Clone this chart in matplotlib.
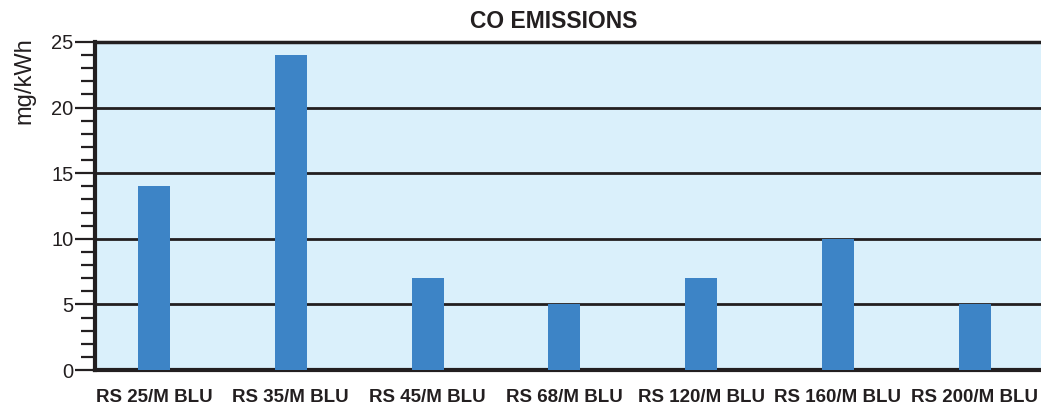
import numpy as np
import matplotlib.pyplot as plt
from matplotlib.ticker import MultipleLocator

# Data
models = ['RS 25/M BLU', 'RS 35/M BLU', 'RS 45/M BLU', 'RS 68/M BLU',
          'RS 120/M BLU', 'RS 160/M BLU', 'RS 200/M BLU']
co_values = [14, 24, 7, 5, 7, 10, 5]

fig = plt.figure(figsize=(10.41, 4.07), dpi=100)
ax = fig.add_axes([0.0913, 0.0909, 0.9087, 0.806])
ax.set_facecolor('#daf0fb')

x = np.arange(len(models))
ax.bar(x, co_values, width=0.234, color='#3d84c6', zorder=3)

ax.set_xlim(-0.431, 6.484)
ax.set_ylim(0, 25)
ax.yaxis.set_major_locator(MultipleLocator(5))
ax.yaxis.set_minor_locator(MultipleLocator(1))
ax.grid(axis='y', which='major', color='#231f20', linewidth=2, zorder=1)

ax.set_xticks(x)
ax.set_xticklabels(models, fontweight='bold', fontsize=13.5, color='#231f20',
                   family=['Liberation Sans', 'DejaVu Sans'])
ax.tick_params(axis='x', length=0, pad=14)
ax.tick_params(axis='y', which='major', length=14.5, width=1.6, color='#231f20',
               labelsize=14.5, labelcolor='#231f20', pad=1)
ax.tick_params(axis='y', which='minor', length=10, width=1.6, color='#231f20')
for lab in ax.get_yticklabels():
    lab.set_family(['Liberation Sans', 'DejaVu Sans'])

for s in ['top', 'right']:
    ax.spines[s].set_visible(False)
ax.spines['left'].set_linewidth(3)
ax.spines['bottom'].set_linewidth(3)
ax.spines['left'].set_color('#231f20')
ax.spines['bottom'].set_color('#231f20')
ax.axhline(25, color='#231f20', linewidth=2.5, zorder=4, clip_on=False)

ax.set_ylabel('mg/kWh', fontsize=17, color='#231f20', ha='right',
              family=['Liberation Sans', 'DejaVu Sans'])
ax.yaxis.set_label_coords(-0.063, 1.015)
fig.text(0.532, 0.948, 'CO EMISSIONS', ha='center', va='center', fontsize=16.5,
         fontweight='bold', color='#231f20', family=['Liberation Sans', 'DejaVu Sans'])

fig.savefig('out.png', dpi=100)
